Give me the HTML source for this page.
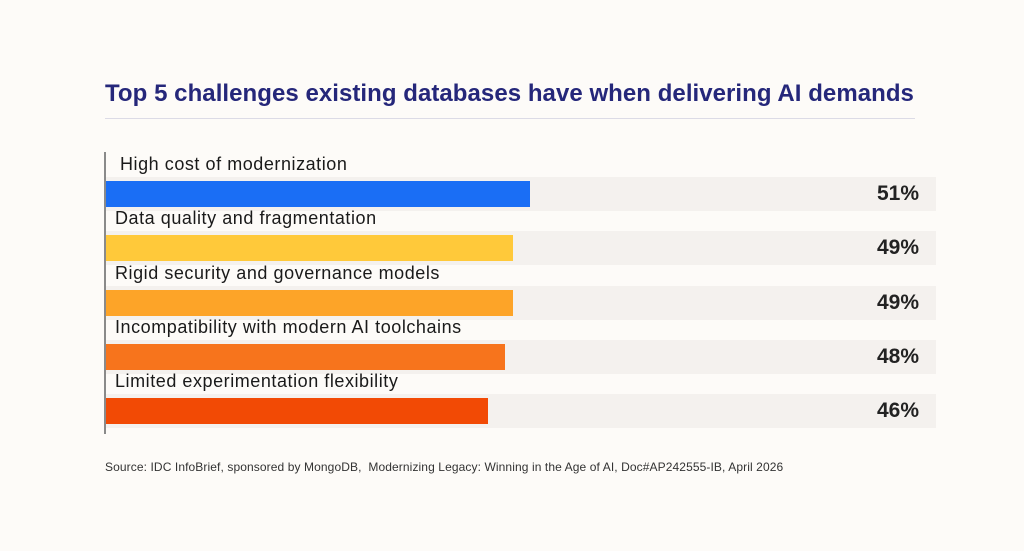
<!DOCTYPE html>
<html><head><style>
body{margin:0;width:1024px;height:551px;background:#fdfbf8;font-family:"Liberation Sans",sans-serif;position:relative;overflow:hidden}
.t{position:absolute;left:105px;top:80px;font-size:24px;font-weight:bold;color:#25277a;white-space:nowrap;letter-spacing:0.05px}
.hr{position:absolute;left:105px;top:118px;width:810px;height:1px;background:#dcdbe6}
.ax{position:absolute;left:104px;top:152px;width:2px;height:282px;background:#8a8a8a}
.bg{position:absolute;left:106px;width:830px;height:34px;background:#f4f1ee}
.bar{position:absolute;left:106px;height:26px}
.lab{position:absolute;font-size:18px;letter-spacing:0.55px;color:#1a1a1a;white-space:nowrap}
.pct{position:absolute;right:105px;font-size:21px;font-weight:bold;color:#222}
.src{position:absolute;left:105px;top:460px;font-size:12px;letter-spacing:0.1px;color:#333;white-space:nowrap}
</style></head><body>
<div class="t">Top 5 challenges existing databases have when delivering AI demands</div>
<div class="hr"></div>
<div class="ax"></div>

<div class="lab" style="left:120px;top:154px">High cost of modernization</div>
<div class="bg" style="top:177px"></div>
<div class="bar" style="top:181px;width:424px;background:#1a6ef5"></div>
<div class="pct" style="top:182px">51%</div>

<div class="lab" style="left:115px;top:208px">Data quality and fragmentation</div>
<div class="bg" style="top:231px"></div>
<div class="bar" style="top:235px;width:407px;background:#ffc93a"></div>
<div class="pct" style="top:236px">49%</div>

<div class="lab" style="left:115px;top:263px">Rigid security and governance models</div>
<div class="bg" style="top:286px"></div>
<div class="bar" style="top:290px;width:407px;background:#fda428"></div>
<div class="pct" style="top:291px">49%</div>

<div class="lab" style="left:115px;top:317px">Incompatibility with modern AI toolchains</div>
<div class="bg" style="top:340px"></div>
<div class="bar" style="top:344px;width:399px;background:#f7741c"></div>
<div class="pct" style="top:345px">48%</div>

<div class="lab" style="left:115px;top:371px">Limited experimentation flexibility</div>
<div class="bg" style="top:394px"></div>
<div class="bar" style="top:398px;width:382px;background:#f24a05"></div>
<div class="pct" style="top:399px">46%</div>

<div class="src">Source: IDC InfoBrief, sponsored by MongoDB,&nbsp; Modernizing Legacy: Winning in the Age of AI, Doc#AP242555-IB, April 2026</div>
</body></html>
